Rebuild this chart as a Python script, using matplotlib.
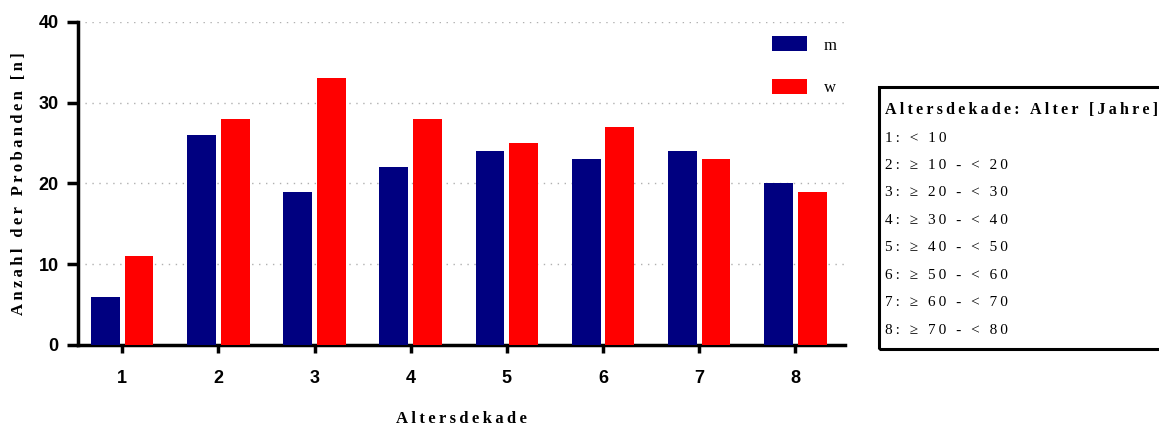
import matplotlib.pyplot as plt
from matplotlib.patches import Rectangle
import numpy as np

# Probanden je Altersdekade, getrennt nach Geschlecht
dekaden = ["1", "2", "3", "4", "5", "6", "7", "8"]
maennlich = [6, 26, 19, 22, 24, 23, 24, 20]
weiblich = [11, 28, 33, 28, 25, 27, 23, 19]
legende_zeilen = ["1: < 10", "2: ≥ 10 - < 20", "3: ≥ 20 - < 30", "4: ≥ 30 - < 40",
                  "5: ≥ 40 - < 50", "6: ≥ 50 - < 60", "7: ≥ 60 - < 70", "8: ≥ 70 - < 80"]

BLAU = "#000080"
ROT = "#ff0000"
SERIF = ["Liberation Serif", "DejaVu Serif"]


def gesperrt(s):
    # Sperrschrift (schmale Leerzeichen zwischen den Zeichen)
    return "\u2009".join(s)


fig = plt.figure(figsize=(11.59, 4.28), dpi=100)
ax = fig.add_axes([0.0673, 0.194, 0.662, 0.7547])

x = np.arange(1, len(dekaden) + 1)
breite = 0.30
ax.bar(x - 0.175, maennlich, breite, color=BLAU, label="m", zorder=3)
ax.bar(x + 0.175, weiblich, breite, color=ROT, label="w", zorder=3)

ax.set_xlim(0.54, 8.52)
ax.set_ylim(0, 40)
ax.set_yticks([0, 10, 20, 30, 40])
ax.set_xticks(x)
ax.set_xticklabels(dekaden)

for v in [10, 20, 30, 40]:
    ax.axhline(v, color="#b0b0b0", lw=1, ls=(0, (1, 4)), zorder=1)

for s in ["top", "right"]:
    ax.spines[s].set_visible(False)
for s in ["left", "bottom"]:
    ax.spines[s].set_linewidth(2.5)

ax.tick_params(axis="y", direction="out", length=8, width=2.5, pad=6)
ax.tick_params(axis="x", direction="out", length=6, width=2.5, pad=12)
for lbl in ax.get_xticklabels() + ax.get_yticklabels():
    lbl.set_fontfamily("Liberation Sans")
    lbl.set_fontweight("bold")
    lbl.set_fontsize(13)

ax.set_ylabel(gesperrt("Anzahl der Probanden [n]"), family=SERIF,
              fontweight="bold", fontsize=12, labelpad=8)
fig.text(461 / 1159, 1 - 419 / 428, gesperrt("Altersdekade"), family=SERIF,
         fontweight="bold", fontsize=12, ha="center", va="center")

fig.legend(loc="upper left", bbox_to_anchor=(764 / 1159, 1 - 28 / 428),
           frameon=False, borderpad=0, handlelength=2.1, handleheight=1.0,
           handletextpad=1.0, labelspacing=1.55,
           prop={"family": SERIF, "size": 12})

# Kasten mit Erklaerung der Altersdekaden
fig.patches.append(Rectangle((879 / 1159, 1 - 349 / 428), 0.3, 262 / 428,
                             transform=fig.transFigure, fill=False,
                             edgecolor="black", lw=2.2))
fig.text(885 / 1159, 1 - 110 / 428, gesperrt("Altersdekade: Alter [Jahre]"),
         family=SERIF, fontweight="bold", fontsize=11.5, va="center")
for i, zeile in enumerate(legende_zeilen):
    fig.text(885 / 1159, 1 - (138 + i * 27.5) / 428, gesperrt(zeile),
             family=SERIF, fontsize=11, va="center")

fig.savefig("out.png", dpi=100)
